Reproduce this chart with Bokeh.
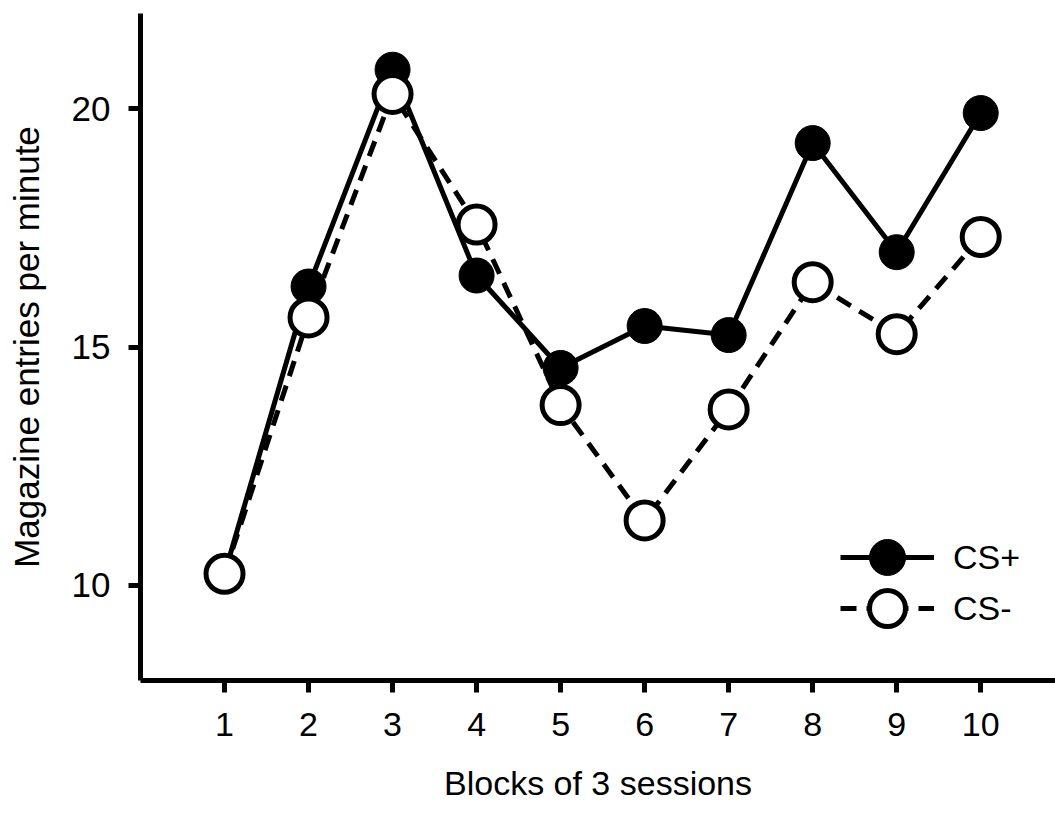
from bokeh.plotting import figure
from bokeh.models import Range1d, FixedTicker, Legend, LegendItem
from bokeh.embed import file_html
from bokeh.resources import INLINE

blocks = [1, 2, 3, 4, 5, 6, 7, 8, 9, 10]
cs_plus = [10.24, 16.27, 20.82, 16.50, 14.56, 15.44, 15.25, 19.28, 16.99, 19.91]
cs_minus = [10.24, 15.62, 20.31, 17.57, 13.78, 11.36, 13.69, 16.36, 15.27, 17.31]
x_ticks = [1, 2, 3, 4, 5, 6, 7, 8, 9, 10]
y_ticks = [10, 15, 20]
x_title = "Blocks of 3 sessions"
y_title = "Magazine entries per minute"
series_names = ["CS+", "CS-"]

FONT = "Liberation Sans"

p = figure(width=1055, height=814, output_backend="svg", toolbar_location=None,
           x_range=Range1d(0, 10.89), y_range=Range1d(8, 22),
           min_border_left=140, min_border_top=13, min_border_bottom=134, min_border_right=0)
p.outline_line_color = None
p.xgrid.visible = False
p.ygrid.visible = False
p.background_fill_color = "white"
p.border_fill_color = "white"

for ax, ticks in ((p.xaxis[0], x_ticks), (p.yaxis[0], y_ticks)):
    ax.ticker = FixedTicker(ticks=ticks)
    ax.axis_line_width = 5
    ax.axis_line_color = "black"
    ax.major_tick_line_width = 5
    ax.major_tick_line_color = "black"
    ax.major_tick_in = 0
    ax.major_tick_out = 12
    ax.minor_tick_line_color = None
    ax.major_label_text_font = FONT
    ax.major_label_text_color = "black"
    ax.axis_label_text_font = FONT
    ax.axis_label_text_font_style = "normal"
    ax.axis_label_text_color = "black"

p.xaxis.axis_label = x_title
p.yaxis.axis_label = y_title
p.xaxis.major_label_text_font_size = "34px"
p.yaxis.major_label_text_font_size = "35px"
p.xaxis.axis_label_text_font_size = "34px"
p.yaxis.axis_label_text_font_size = "35px"
p.xaxis.major_label_standoff = 20
p.xaxis.axis_label_standoff = 25
p.yaxis.major_label_standoff = 18
p.yaxis.axis_label_standoff = 23

l1 = p.line(blocks, cs_plus, line_color="black", line_width=5)
s1 = p.scatter(blocks, cs_plus, size=35, fill_color="black", line_color="black", line_width=1)
l2 = p.line(blocks, cs_minus, line_color="black", line_width=5, line_dash="16 10")
s2 = p.scatter(blocks, cs_minus, size=37, fill_color="white", line_color="black", line_width=5)

def make_legend(label, renderers, loc):
    return Legend(items=[LegendItem(label=label, renderers=renderers)],
                  location=loc, glyph_width=94, glyph_height=90, spacing=0,
                  label_standoff=19, padding=0, margin=0, border_line_color=None,
                  background_fill_alpha=0, label_text_font=FONT, label_text_font_size="34px",
                  label_text_color="black")

p.add_layout(make_legend(series_names[0], [l1, s1], (700, 78)), "center")
p.add_layout(make_legend(series_names[1], [l2, s2], (700, 27)), "center")

open("out.html", "w").write(file_html(p, INLINE))
